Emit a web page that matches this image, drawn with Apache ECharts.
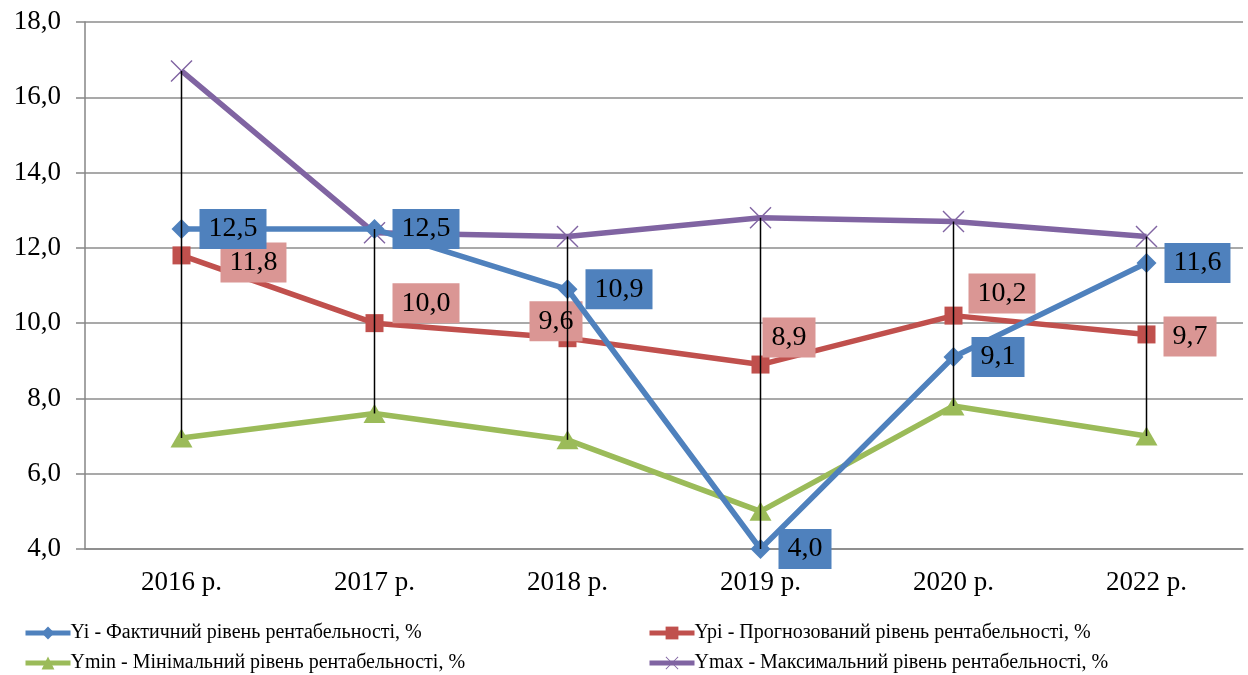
<!DOCTYPE html>
<html>
<head>
<meta charset="utf-8">
<title>Рівень рентабельності</title>
<script src="https://cdn.jsdelivr.net/npm/echarts@6/dist/echarts.min.js"></script>
<style>
  html, body { margin: 0; padding: 0; background: #fff; }
  #chart { width: 1248px; height: 675px; }
</style>
</head>
<body>
<div id="chart"></div>
<script>
// Categories (years) and series values, %
const years = ['2016 р.', '2017 р.', '2018 р.', '2019 р.', '2020 р.', '2022 р.'];
const yiValues   = [12.5, 12.5, 10.9, 4.0, 9.1, 11.6];   // фактичний
const ypiValues  = [11.8, 10.0, 9.6, 8.9, 10.2, 9.7];    // прогнозований
const yminValues = [6.95, 7.6, 6.9, 5.0, 7.8, 7.0];      // мінімальний
const ymaxValues = [16.7, 12.4, 12.3, 12.8, 12.7, 12.3]; // максимальний
const yTicks = { min: 4, max: 18, step: 2 };

const names = {
  yi:   'Yi - Фактичний рівень рентабельності, %',
  ypi:  'Ypi - Прогнозований рівень рентабельності, %',
  ymin: 'Ymin - Мінімальний рівень рентабельності, %',
  ymax: 'Ymax - Максимальний рівень рентабельності, %'
};

const FONT = 'Liberation Serif';
const fmt = v => v.toFixed(1).replace('.', ',');

// Label placement for the forecast series (offset from the marker centre)
const ypiLabelOffsets = [[39, 7], [18, -20], [-38, -17], [2, -27], [15, -22], [17, 2]];

// High-low lines: from the lowest to the highest value in each year
const hiLow = years.map((_, i) => {
  const vals = [yiValues[i], ypiValues[i], yminValues[i], ymaxValues[i]];
  return [i, Math.min(...vals), Math.max(...vals)];
});

const crossPath = 'path://M1,0L11,10L21,0L22,1L12,11L22,21L21,22L11,12L1,22L0,21L10,11L0,1Z';

const boxLabel = (bg) => ({
  show: true,
  position: 'inside',
  align: 'left',
  verticalAlign: 'middle',
  fontFamily: FONT,
  fontSize: 28,
  lineHeight: 28,
  color: '#000',
  backgroundColor: bg,
  padding: [6, 9, 6, 9],
  formatter: p => fmt(p.value)
});

const chart = echarts.init(document.getElementById('chart'), null, { renderer: 'canvas' });

const legendBase = {
  itemWidth: 45,
  itemHeight: 16,
  itemGap: 0,
  padding: 0,
  selectedMode: false,
  lineStyle: { width: 5 },
  textStyle: { fontFamily: FONT, fontSize: 20, color: '#000', padding: [0, 0, 0, -5] }
};

chart.setOption({
  animation: false,
  backgroundColor: '#fff',
  grid: { left: 85, right: 5, top: 22, bottom: 126, containLabel: false },
  xAxis: {
    type: 'category',
    data: years,
    boundaryGap: true,
    axisLine: { lineStyle: { color: '#868686', width: 1.5 } },
    axisTick: { show: false },
    axisLabel: { fontFamily: FONT, fontSize: 27, color: '#000', margin: 20 }
  },
  yAxis: {
    type: 'value',
    min: yTicks.min,
    max: yTicks.max,
    interval: yTicks.step,
    axisLine: { show: true, lineStyle: { color: '#868686', width: 1.5 } },
    axisTick: { show: true, length: 9, lineStyle: { color: '#868686', width: 1.5 } },
    axisLabel: { fontFamily: FONT, fontSize: 27, color: '#000', margin: 24, formatter: v => fmt(v) },
    splitLine: { show: true, lineStyle: { color: '#8c8c8c', width: 1.5 } }
  },
  legend: [
    Object.assign({ data: [names.yi],   left: 23,  top: 623 }, legendBase),
    Object.assign({ data: [names.ypi],  left: 647, top: 623 }, legendBase),
    Object.assign({ data: [names.ymin], left: 23,  top: 653 }, legendBase),
    Object.assign({ data: [names.ymax], left: 647, top: 653 }, legendBase)
  ],
  series: [
    {
      name: names.ymax,
      type: 'line',
      data: ymaxValues,
      symbol: crossPath,
      symbolSize: 22,
      lineStyle: { color: '#8064A2', width: 5.5 },
      itemStyle: { color: '#8064A2' },
      z: 2
    },
    {
      name: names.ymin,
      type: 'line',
      data: yminValues,
      symbol: 'triangle',
      symbolSize: [22, 19],
      lineStyle: { color: '#9BBB59', width: 5.5 },
      itemStyle: { color: '#9BBB59' },
      z: 3
    },
    {
      name: names.ypi,
      type: 'line',
      data: ypiValues.map((v, i) => ({
        value: v,
        label: { offset: ypiLabelOffsets[i] }
      })),
      symbol: 'rect',
      symbolSize: 18,
      lineStyle: { color: '#C0504D', width: 5.5 },
      itemStyle: { color: '#C0504D' },
      label: boxLabel('#DA9694'),
      z: 4
    },
    {
      name: names.yi,
      type: 'line',
      data: yiValues,
      symbol: 'diamond',
      symbolSize: 20,
      lineStyle: { color: '#4F81BD', width: 5.5 },
      itemStyle: { color: '#4F81BD' },
      label: Object.assign(boxLabel('#4F81BD'), { offset: [18, 0] }),
      z: 5
    },
    {
      name: 'hi-low',
      type: 'custom',
      data: hiLow,
      encode: { x: 0, y: [1, 2] },
      silent: true,
      z: 6,
      renderItem: (params, api) => {
        const a = api.coord([api.value(0), api.value(1)]);
        const b = api.coord([api.value(0), api.value(2)]);
        return {
          type: 'line',
          shape: { x1: a[0], y1: a[1], x2: b[0], y2: b[1] },
          style: { stroke: '#000', lineWidth: 1.5 }
        };
      }
    }
  ]
});
</script>
</body>
</html>
